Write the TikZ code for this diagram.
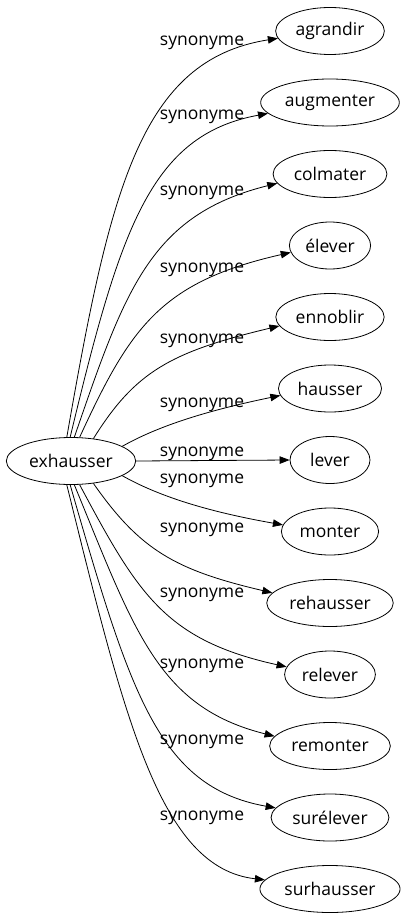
\documentclass[tikz,border=0pt]{standalone}
\usepackage{fontspec}
\setmainfont{Open Sans}
\usetikzlibrary{shapes.geometric,arrows.meta}
\begin{document}
\begin{tikzpicture}[x=1pt,y=-1pt,
  word/.style={draw,ellipse,line width=0.8pt,minimum height=47pt,minimum width=80pt,inner xsep=4pt,font=\fontsize{17.5}{20}\selectfont},
  lab/.style={font=\fontsize{17.5}{20}\selectfont},
  syn/.style={line width=0.8pt,-{Triangle[length=10pt,width=7.5pt]}}]
\useasboundingbox (0,0) rectangle (404,923);
\node[word] (ex) at (71,461) {exhausser};
\node[word] (agrandir) at (330,31) {agrandir};
\node[word] (augmenter) at (330,102.5) {augmenter};
\node[word] (colmater) at (330,174) {colmater};
\node[word] (elever) at (330,245.5) {élever};
\node[word] (ennoblir) at (330,317) {ennoblir};
\node[word] (hausser) at (330,388.5) {hausser};
\node[word] (lever) at (330,460) {lever};
\node[word] (monter) at (330,531.5) {monter};
\node[word] (rehausser) at (330,603) {rehausser};
\node[word] (relever) at (330,674.5) {relever};
\node[word] (remonter) at (330,746) {remonter};
\node[word] (surelever) at (330,817.5) {surélever};
\node[word] (surhausser) at (330,889) {surhausser};
% top half
\draw[syn] (ex.100) .. controls (110,190) and (140,60) .. (agrandir.188);
\draw[syn] (ex.92) .. controls (120,230) and (150,135) .. (augmenter.190);
\draw[syn] (ex.82) .. controls (125,290) and (150,215) .. (colmater.190);
\draw[syn] (ex.70) .. controls (130,328) and (160,282) .. (elever.190);
\draw[syn] (ex.45) .. controls (135,372) and (170,352) .. (ennoblir.190);
\draw[syn] (ex.16) .. controls (160,425) and (210,410) .. (hausser.188);
\draw[syn] (ex.east) -- (lever.west);
% bottom half
\draw[syn] (ex.-16) .. controls (160,497) and (210,512) .. (monter.172);
\draw[syn] (ex.-45) .. controls (140,550) and (175,570) .. (rehausser.170);
\draw[syn] (ex.-70) .. controls (138,594) and (165,640) .. (relever.170);
\draw[syn] (ex.-82) .. controls (135,632) and (158,707) .. (remonter.170);
\draw[syn] (ex.-92) .. controls (130,692) and (158,787) .. (surelever.170);
\draw[syn] (ex.-100) .. controls (125,720) and (160,868) .. (surhausser.172);
% labels
\node[lab] (l1) at (202,42.5) {synonyme};
\node[lab] (l2) at (202,117) {synonyme};
\node[lab] (l3) at (202,193) {synonyme};
\node[lab] (l4) at (202,270) {synonyme};
\node[lab] (l5) at (202,341) {synonyme};
\node[lab] (l6) at (202,405) {synonyme};
\node[lab] (l7) at (202,454) {synonyme};
\node[lab] (l8) at (202,481) {synonyme};
\node[lab] (l9) at (202,530) {synonyme};
\node[lab] (l10) at (202,595) {synonyme};
\node[lab] (l11) at (202,666) {synonyme};
\node[lab] (l12) at (202,742) {synonyme};
\node[lab] (l13) at (202,818) {synonyme};
\end{tikzpicture}
\end{document}
